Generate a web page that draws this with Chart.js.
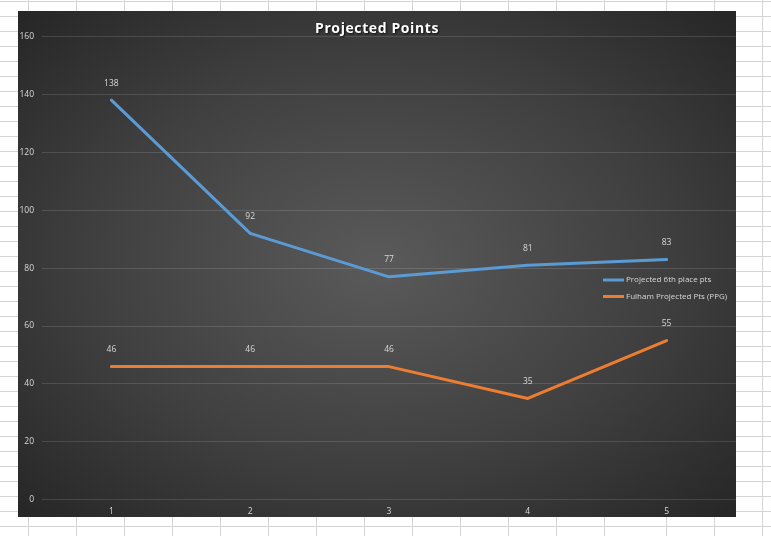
<!DOCTYPE html>
<html>
<head>
<meta charset="utf-8">
<script src="https://cdn.jsdelivr.net/npm/chart.js@4.4.0/dist/chart.umd.min.js"></script>
<style>
  html, body { margin: 0; padding: 0; }
  body {
    width: 771px; height: 536px; position: relative; overflow: hidden;
    background-color: #ffffff;
    background-image:
      linear-gradient(to right, #d4d4d4 1px, transparent 1px),
      linear-gradient(to bottom, #d4d4d4 1px, transparent 1px);
    background-size: 48px 100%, 100% 15px;
    background-position: 28px 0, 0 1px;
  }
  #extra { position: absolute; left: 604px; top: 0; width: 170px; height: 536px; background: #fff;
    background-image:
      linear-gradient(to bottom, #d4d4d4 1px, transparent 1px);
    background-size: 100% 15px; background-position: 0 1px; }
  .vl { position: absolute; top: 0; width: 1px; height: 536px; background: #d4d4d4; }
  #wrap {
    position: absolute; left: 18px; top: 11px; width: 718px; height: 506px;
    background: radial-gradient(ellipse farthest-corner at 50% 50%, #5a5a5a 0%, #404040 55%, #262626 100%);
  }
</style>
</head>
<body>
<div id="extra"></div>
<div class="vl" style="left:604px"></div>
<div class="vl" style="left:666px"></div>
<div class="vl" style="left:714px"></div>
<div class="vl" style="left:762px"></div>
<div id="wrap"><canvas id="c" width="718" height="506"></canvas></div>
<script>
const categories = ['1', '2', '3', '4', '5'];
const sixthPlace = [138, 92, 77, 81, 83];
const fulham = [46, 46, 46, 35, 55];
const seriesNames = ['Projected 6th place pts', 'Fulham Projected Pts (PPG)'];
const chartTitle = 'Projected Points';

const FONT = "'Open Sans', 'Liberation Sans', sans-serif";
const TXT = '#d9d9d9';

const titlePlugin = {
  id: 'xlTitle',
  afterDraw(chart) {
    const ctx = chart.ctx;
    ctx.save();
    ctx.font = "bold 14px " + FONT;
    if ('letterSpacing' in ctx) ctx.letterSpacing = '0.6px';
    ctx.textAlign = 'center';
    ctx.textBaseline = 'middle';
    ctx.shadowColor = 'rgba(0,0,0,0.8)';
    ctx.shadowOffsetX = 1; ctx.shadowOffsetY = 1.5; ctx.shadowBlur = 2;
    ctx.fillStyle = '#ffffff';
    ctx.fillText(chartTitle, chart.width / 2, 18);
    ctx.restore();
  }
};

const labelPlugin = {
  id: 'xlLabels',
  afterDatasetsDraw(chart) {
    const ctx = chart.ctx;
    ctx.save();
    ctx.font = "8.5px " + FONT;
    ctx.fillStyle = TXT;
    ctx.textAlign = 'center';
    ctx.textBaseline = 'middle';
    chart.data.datasets.forEach((ds, i) => {
      chart.getDatasetMeta(i).data.forEach((pt, j) => {
        ctx.fillText(Math.round(ds.data[j]), pt.x, pt.y - 17);
      });
    });
    ctx.restore();
  }
};

const legendPlugin = {
  id: 'xlLegend',
  afterDraw(chart) {
    const ctx = chart.ctx;
    ctx.save();
    ctx.font = "8px " + FONT;
    ctx.textBaseline = 'middle';
    chart.data.datasets.forEach((ds, i) => {
      const y = 269 + i * 16.5;
      ctx.strokeStyle = ds.borderColor;
      ctx.lineWidth = 3;
      ctx.beginPath(); ctx.moveTo(585, y); ctx.lineTo(606, y); ctx.stroke();
      ctx.fillStyle = TXT;
      ctx.fillText(ds.label, 608, y);
    });
    ctx.restore();
  }
};

new Chart(document.getElementById('c'), {
  type: 'line',
  data: {
    labels: categories,
    datasets: [
      { label: seriesNames[0], data: sixthPlace, borderColor: '#5B9BD5', borderWidth: 3, pointRadius: 0, tension: 0, borderCapStyle: 'round', borderJoinStyle: 'round' },
      { label: seriesNames[1], data: fulham, borderColor: '#ED7D31', borderWidth: 3, pointRadius: 0, tension: 0, borderCapStyle: 'round', borderJoinStyle: 'round' }
    ]
  },
  options: {
    responsive: false,
    animation: false,
    devicePixelRatio: 1,
    layout: { padding: { top: 25.5, left: 0, right: 0, bottom: 0 } },
    plugins: { legend: { display: false }, title: { display: false }, tooltip: { enabled: false } },
    scales: {
      x: {
        offset: true,
        grid: { display: false, drawTicks: false },
        border: { display: false },
        ticks: { color: TXT, font: { family: FONT, size: 8.5 }, padding: 7 },
        afterFit: s => { s.height = 17.2; }
      },
      y: {
        min: 0, max: 160,
        grid: { color: 'rgba(255,255,255,0.13)', lineWidth: 1, drawTicks: false },
        border: { display: false },
        ticks: { stepSize: 20, color: TXT, font: { family: FONT, size: 8.5 }, padding: 8 },
        afterFit: s => { s.width = 24; }
      }
    }
  },
  plugins: [titlePlugin, labelPlugin, legendPlugin]
});
</script>
</body>
</html>
